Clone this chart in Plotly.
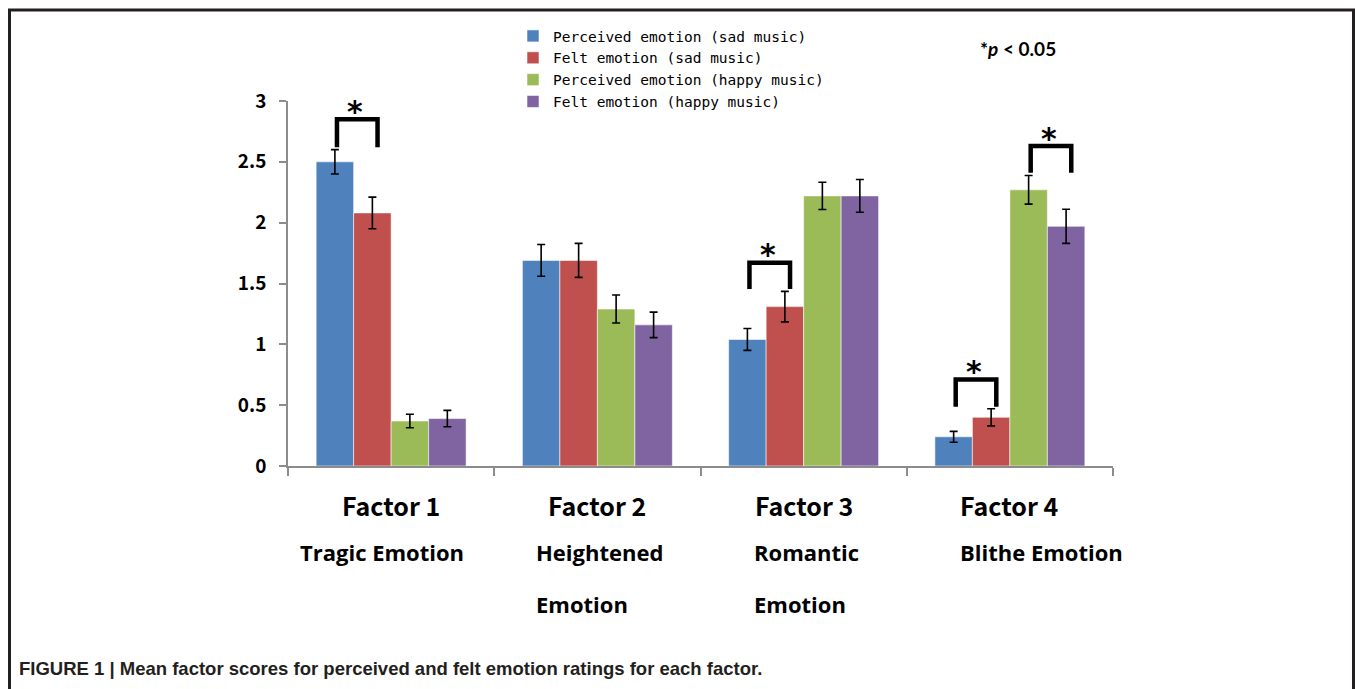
import plotly.graph_objects as go

# ---------------- data ----------------
factors = ["Factor 1", "Factor 2", "Factor 3", "Factor 4"]
factor_names = [["Tragic Emotion"], ["Heightened", "Emotion"], ["Romantic", "Emotion"], ["Blithe Emotion"]]
series_names = ["Perceived emotion (sad music)", "Felt emotion (sad music)",
                "Perceived emotion (happy music)", "Felt emotion (happy music)"]
perceived_sad = [2.50, 1.69, 1.04, 0.24]
felt_sad = [2.08, 1.69, 1.31, 0.40]
perceived_happy = [0.37, 1.29, 2.22, 2.27]
felt_happy = [0.39, 1.16, 2.22, 1.97]
err_perceived_sad = [0.10, 0.13, 0.09, 0.045]
err_felt_sad = [0.13, 0.14, 0.125, 0.07]
err_perceived_happy = [0.055, 0.115, 0.112, 0.118]
err_felt_happy = [0.067, 0.105, 0.135, 0.14]
y_ticks = [0, 0.5, 1, 1.5, 2, 2.5, 3]
y_tick_labels = ["0", "0.5", "1", "1.5", "2", "2.5", "3"]
# significance brackets: (factor index, left series, right series, bracket top, bracket leg bottom)
brackets = [(0, 0, 1, 2.85, 2.62), (2, 0, 1, 1.67, 1.455), (3, 0, 1, 0.71, 0.487), (3, 2, 3, 2.63, 2.41)]

# ---------------- style ----------------
colors = ["#4F81BD", "#C0504D", "#9BBB59", "#8064A2"]
W, H = 1355, 689
PLOT_L, PLOT_R, PLOT_T, PLOT_B = 288, 1113, 101, 466  # in screenshot pixels
L, R, T, B = PLOT_L, W - PLOT_R, PLOT_T, H - PLOT_B
bargap = 0.273
axis_grey = "#8c8c8c"
jp_font = "Noto Sans CJK JP, MS PGothic, sans-serif"

values = [perceived_sad, felt_sad, perceived_happy, felt_happy]
errors = [err_perceived_sad, err_felt_sad, err_perceived_happy, err_felt_happy]
xs = list(range(len(factors)))

fig = go.Figure()
for name, vals, errs, col in zip(series_names, values, errors, colors):
    fig.add_trace(go.Bar(
        x=xs, y=vals, name=name,
        marker=dict(color=col, line=dict(color="rgba(255,255,255,0.55)", width=1)),
        error_y=dict(type="data", array=errs, color="black", thickness=1.6, width=4),
    ))

bar_w = (1 - bargap) / len(series_names)
def bar_center(fi, si):
    return fi + (si - (len(series_names) - 1) / 2) * bar_w

for fi, s0, s1, ytop, ybot in brackets:
    x0 = bar_center(fi, s0) + 0.01
    x1 = bar_center(fi, s1) + 0.025
    fig.add_trace(go.Scatter(
        x=[x0, x0, x1, x1], y=[ybot, ytop, ytop, ybot], mode="lines",
        line=dict(color="black", width=4.5), showlegend=False, hoverinfo="skip"))
    fig.add_annotation(x=(x0 + x1) / 2 - 0.01, y=ytop, xref="x", yref="y", text="<b>*</b>",
                       showarrow=False, yanchor="middle", yshift=8,
                       font=dict(family="DejaVu Sans, sans-serif", size=30, color="black"))

def px_to_paper_x(px):
    return (px - PLOT_L) / (PLOT_R - PLOT_L)

def px_to_paper_y(py):
    return (PLOT_B - py) / (PLOT_B - PLOT_T)

# category labels
sub_offsets = [-0.451, -0.307, -0.25, -0.252]
for fi, (fac, sub) in enumerate(zip(factors, factor_names)):
    fig.add_annotation(x=fi, y=0, xref="x", yref="paper", text="<b>" + fac + "</b>",
                       showarrow=False, xanchor="center", yanchor="middle", yshift=-(505 - PLOT_B),
                       font=dict(family=jp_font, size=25, color="black"))
    for li, line in enumerate(sub):
        fig.add_annotation(x=fi + sub_offsets[fi], y=0, xref="x", yref="paper",
                           text="<b>" + line + "</b>", showarrow=False,
                           xanchor="left", yanchor="middle", yshift=-(552 - PLOT_B) - li * 52,
                           font=dict(family="Open Sans, sans-serif", size=22, color="black"))

fig.add_annotation(x=px_to_paper_x(978), y=px_to_paper_y(48), xref="paper", yref="paper",
                   text="<b>*<i>p</i> &lt; 0.05</b>", showarrow=False, xanchor="left", yanchor="middle",
                   font=dict(family="Lato, Open Sans, sans-serif", size=19, color="black"))

fig.add_annotation(x=px_to_paper_x(17), y=px_to_paper_y(668), xref="paper", yref="paper",
                   text="<b>FIGURE 1 | Mean factor scores for perceived and felt emotion ratings for each factor.</b>",
                   showarrow=False, xanchor="left", yanchor="middle",
                   font=dict(family="Liberation Sans Narrow, Arial Narrow, sans-serif", size=18.5, color="#231f20"))

# outer frame (left, top, right sides)
fl, fr, ft, fb = px_to_paper_x(9.5), px_to_paper_x(1353.5), px_to_paper_y(10), px_to_paper_y(720)
fig.add_shape(type="path", xref="paper", yref="paper",
              path=f"M {fl},{fb} L {fl},{ft} L {fr},{ft} L {fr},{fb}",
              line=dict(color="#231f20", width=3))

fig.update_layout(
    width=W, height=H,
    margin=dict(l=L, r=R, t=T, b=B),
    paper_bgcolor="white", plot_bgcolor="white",
    barmode="group", bargap=bargap, bargroupgap=0,
    showlegend=True,
    legend=dict(x=px_to_paper_x(513), y=px_to_paper_y(20), xanchor="left", yanchor="top",
                font=dict(family="DejaVu Sans Mono, monospace", size=14.5, color="black"),
                bgcolor="rgba(0,0,0,0)", borderwidth=0, itemwidth=30,
                tracegroupgap=0),
    xaxis=dict(range=[-0.5, 3.5], tickvals=[-0.5, 0.5, 1.5, 2.5, 3.5], ticktext=["", "", "", "", ""],
               ticks="outside", ticklen=8, tickcolor=axis_grey, tickwidth=1.5,
               showline=True, linecolor=axis_grey, linewidth=2, showgrid=False, zeroline=False,
               fixedrange=True),
    yaxis=dict(range=[0, 3], tickvals=y_ticks, ticktext=["<b>" + t + "</b>" for t in y_tick_labels],
               ticks="outside", ticklen=7, tickcolor=axis_grey, tickwidth=1.5,
               showline=True, linecolor=axis_grey, linewidth=1.5, showgrid=False, zeroline=False,
               tickfont=dict(family=jp_font, size=19, color="black"), ticklabelstandoff=9,
               fixedrange=True),
)

# the page's default 8px body margin would shift the figure; remove it
fig.write_html("out.html", config={"displayModeBar": False},
               post_script="document.body.style.margin='0px';")
